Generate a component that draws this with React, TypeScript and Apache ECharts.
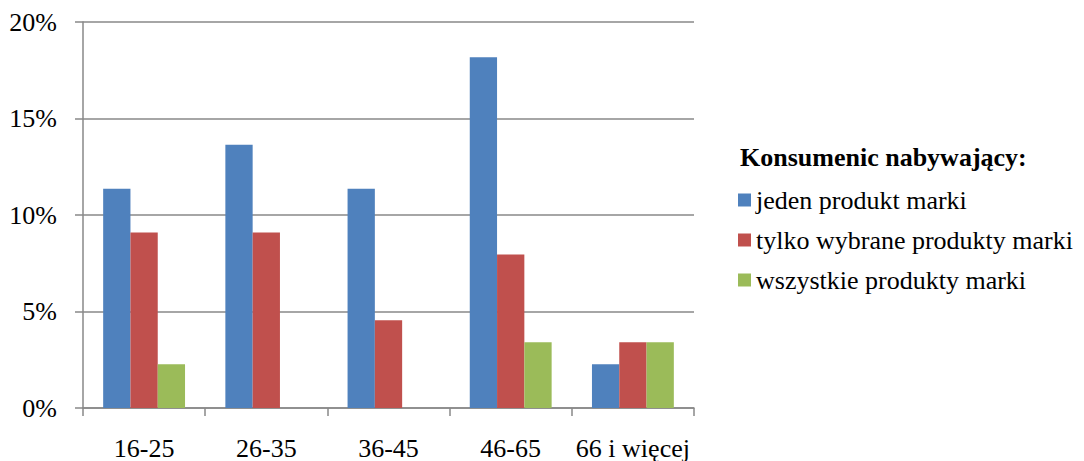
import React, { useEffect, useRef } from "react";
import * as echarts from "echarts";

const categories = ["16-25", "26-35", "36-45", "46-65", "66 i więcej"];
const seriesNames = [
  "jeden produkt marki",
  "tylko wybrane produkty marki",
  "wszystkie produkty marki",
];
const jedenProdukt = [11.36, 13.64, 11.36, 18.18, 2.27];
const wybraneProdukty = [9.09, 9.09, 4.55, 7.95, 3.41];
const wszystkieProdukty = [2.27, 0, 0, 3.41, 3.41];
const colors = ["#4F81BD", "#C0504D", "#9BBB59"];
const legendTitle = "Konsumenic nabywający:";

const FONT = "'Liberation Serif', 'Times New Roman', serif";
const FS = 26;
const GREY = "#888888";

export default function App() {
  const ref = useRef<HTMLDivElement>(null);

  useEffect(() => {
    if (!ref.current) return;
    const chart = echarts.init(ref.current, null, { renderer: "svg" });
    const values = [jedenProdukt, wybraneProdukty, wszystkieProdukty];
    chart.setOption({
      animation: false,
      textStyle: { fontFamily: FONT },
      title: {
        text: legendTitle,
        left: 740,
        top: 144,
        padding: 0,
        textStyle: {
          fontFamily: FONT,
          fontSize: FS,
          fontWeight: "bold",
          color: "#000",
          lineHeight: FS,
        },
      },
      legend: {
        orient: "vertical",
        left: 738,
        top: 187,
        padding: 0,
        itemWidth: 13,
        itemHeight: 13,
        itemGap: 14,
        icon: "rect",
        data: seriesNames,
        textStyle: {
          fontFamily: FONT,
          fontSize: FS,
          color: "#000",
          lineHeight: FS,
        },
      },
      grid: { left: 83, right: 390, top: 22, bottom: 53 },
      xAxis: {
        type: "category",
        data: categories,
        axisLine: { lineStyle: { color: GREY, width: 1.5 } },
        axisTick: { show: true, length: 8, lineStyle: { color: GREY, width: 1.5 } },
        axisLabel: {
          interval: 0,
          hideOverlap: false,
          margin: 27,
          fontFamily: FONT,
          fontSize: FS,
          color: "#000",
        },
      },
      yAxis: {
        type: "value",
        min: 0,
        max: 20,
        interval: 5,
        axisLine: { show: true, lineStyle: { color: GREY, width: 1.5 } },
        axisTick: { show: true, length: 8, lineStyle: { color: GREY, width: 1.5 } },
        splitLine: { lineStyle: { color: GREY, width: 1.5 } },
        axisLabel: {
          formatter: "{value}%",
          margin: 26,
          fontFamily: FONT,
          fontSize: FS,
          color: "#000",
        },
      },
      series: seriesNames.map((name, i) => ({
        name,
        type: "bar",
        data: values[i],
        barGap: "0%",
        barCategoryGap: "33%",
        itemStyle: { color: colors[i] },
      })),
    });
    return () => chart.dispose();
  }, []);

  return (
    <div
      ref={ref}
      style={{ position: "absolute", left: 0, top: 0, width: 1084, height: 461 }}
    />
  );
}
